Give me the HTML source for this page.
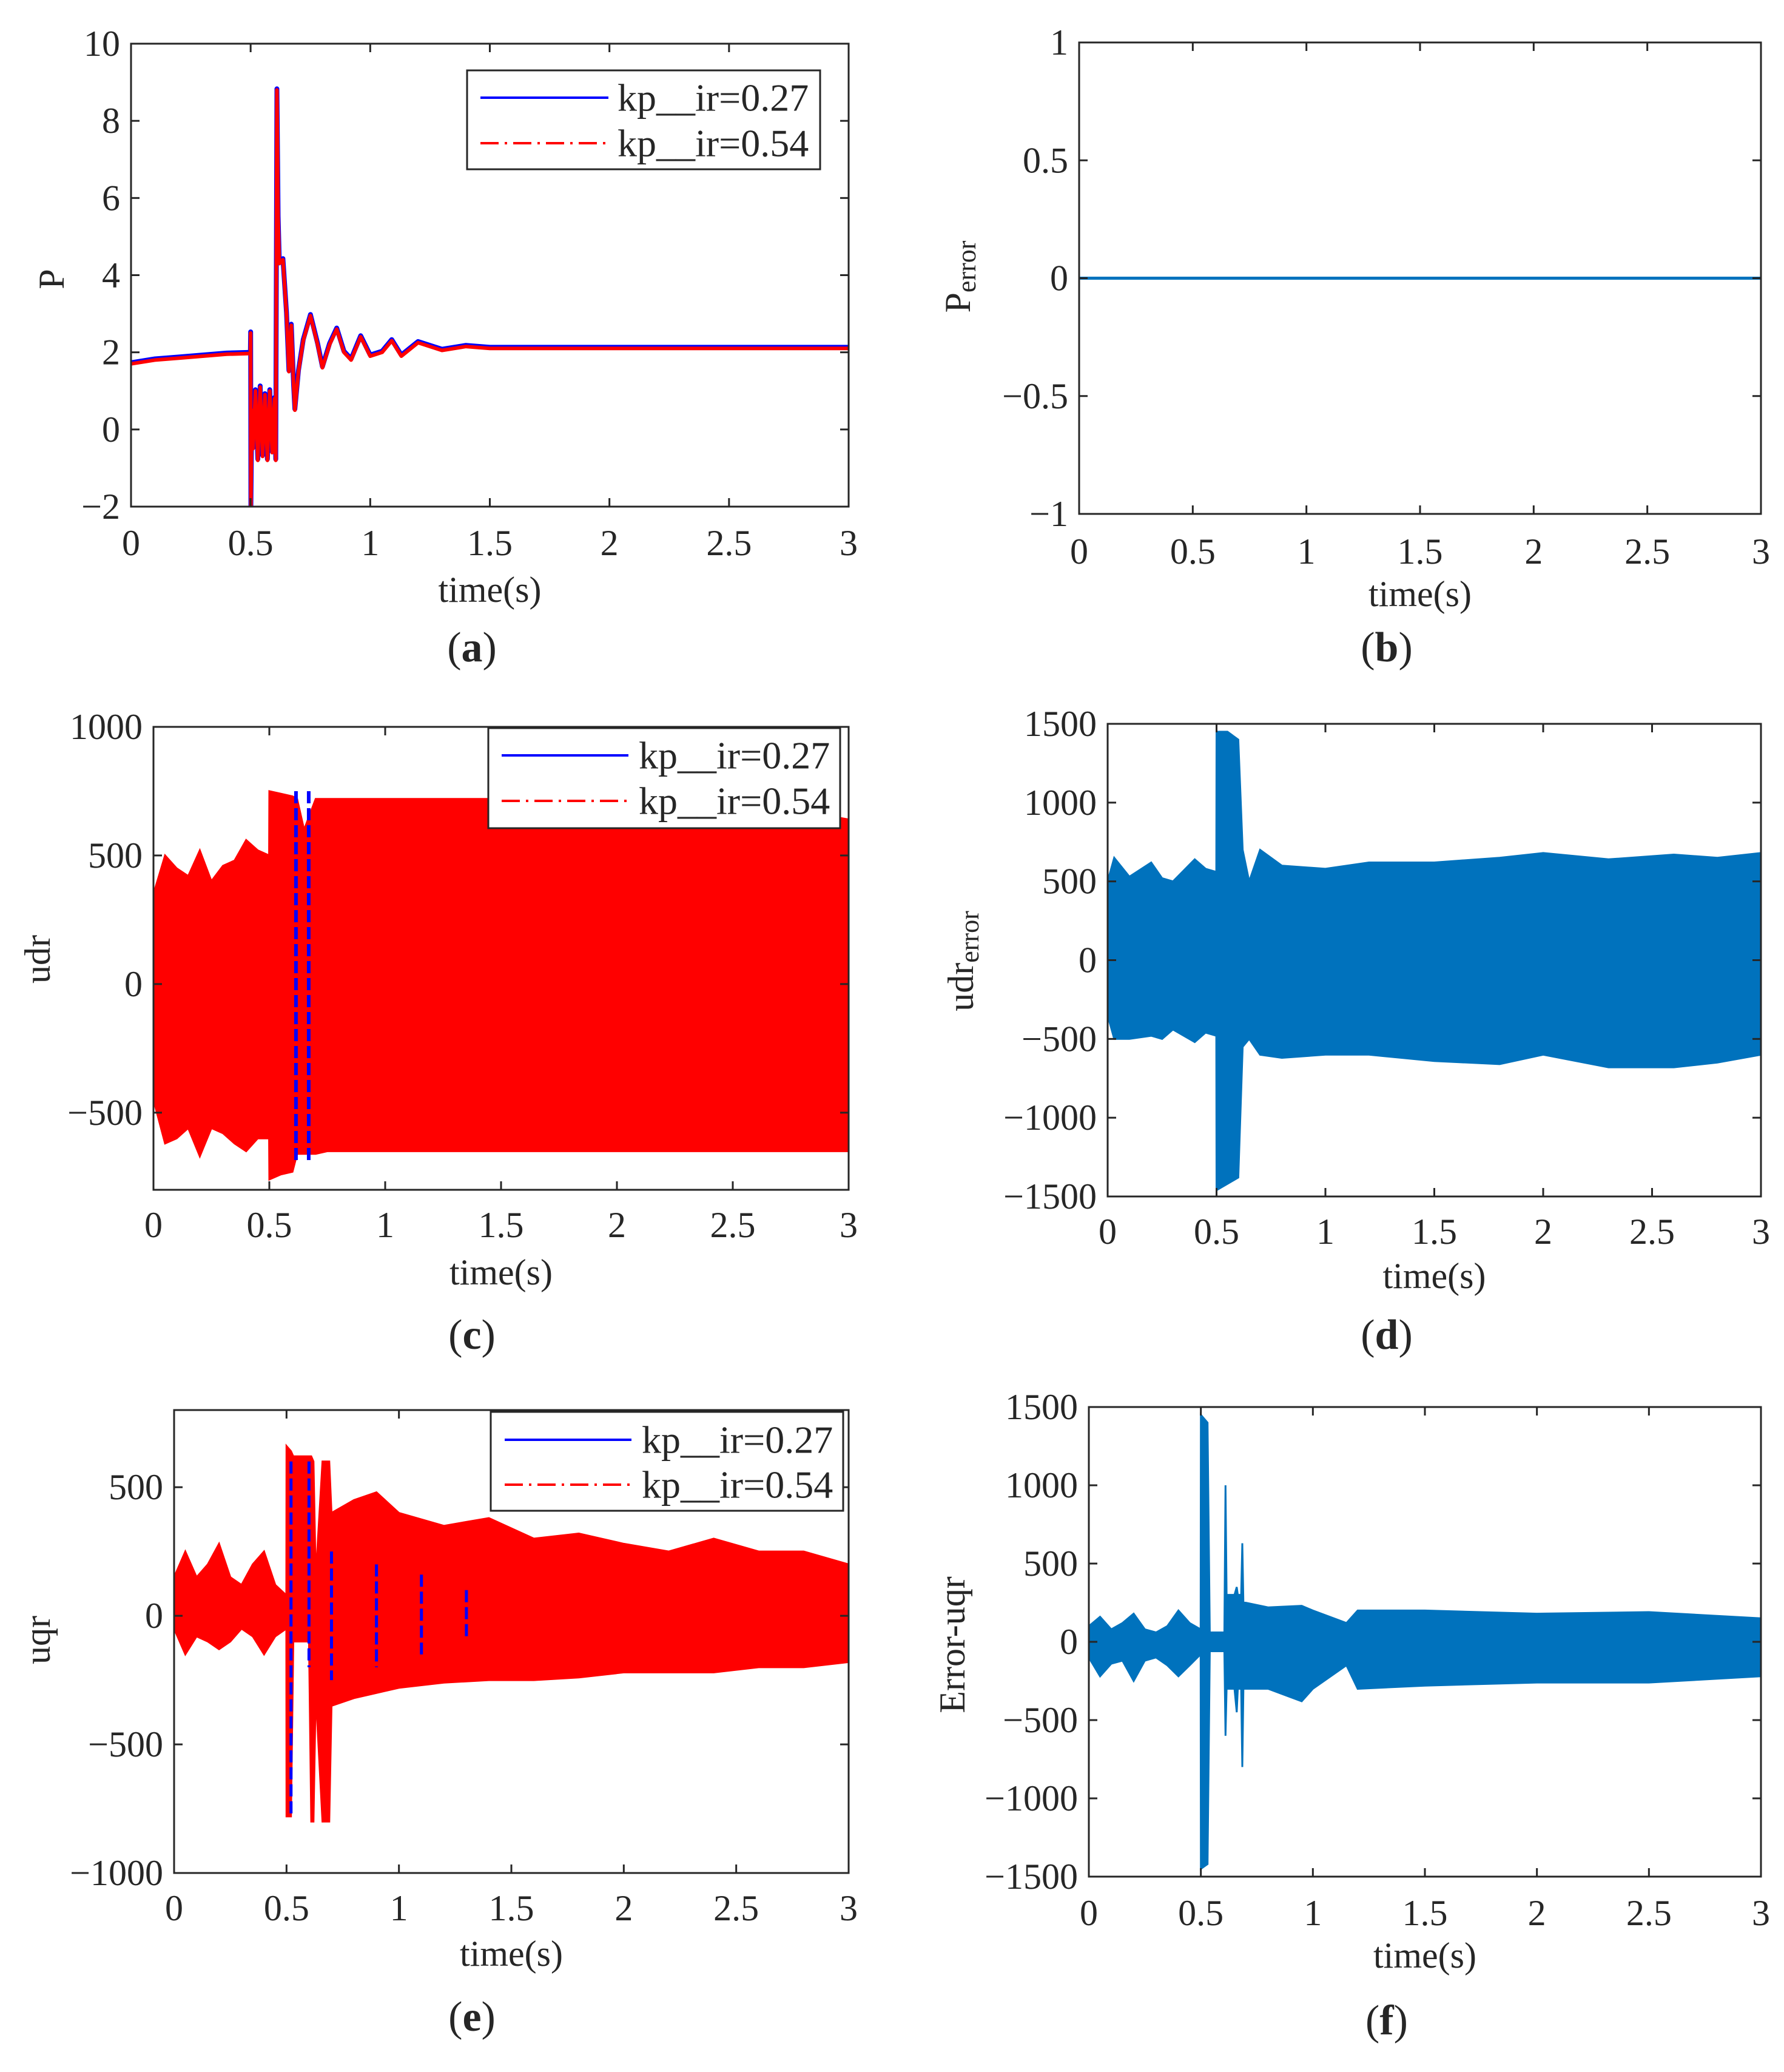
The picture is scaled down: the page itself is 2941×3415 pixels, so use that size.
<!DOCTYPE html>
<html><head><meta charset="utf-8"><style>
html,body{margin:0;padding:0;background:#fff;}
svg{display:block;}
text{font-family:"Liberation Serif",serif;fill:#262626;}
</style></head><body>
<svg id="fig" width="2941" height="3415" viewBox="0 0 2941 3415" xmlns="http://www.w3.org/2000/svg"></svg>
<script>
// ---------- data ----------
const xTicks = [0,0.5,1,1.5,2,2.5,3];
const xTickLabels = ["0","0.5","1","1.5","2","2.5","3"];
// (a) P
const pTimes = [0,0.1,0.2,0.3,0.4,0.499,0.5,0.501,0.505,0.51,0.52,0.53,0.54,0.55,0.56,0.57,0.58,0.59,0.6,0.605,0.61,0.615,0.62,0.635,0.65,0.66,0.67,0.68,0.685,0.7,0.72,0.75,0.78,0.8,0.83,0.86,0.89,0.92,0.96,1.0,1.05,1.09,1.13,1.2,1.3,1.4,1.5,2.0,2.5,3.0];
const pValues = [1.7,1.8,1.85,1.9,1.95,1.97,2.5,-2,0.5,-0.5,1.0,-0.8,1.1,-0.7,0.9,-0.8,1.0,-0.6,0.8,-0.8,8.8,5.5,4.3,4.4,3.0,1.5,2.7,1.1,0.5,1.5,2.3,2.95,2.2,1.6,2.2,2.6,2.0,1.8,2.4,1.9,2.0,2.3,1.9,2.25,2.05,2.15,2.1,2.1,2.1,2.1];
const pTicks = [-2,0,2,4,6,8,10];
// (b) P error
const peTimes = [0,3];
const peValues = [0,0];
const peTicks = [-1,-0.5,0,0.5,1];
const peTickLabels = ["\u22121","\u22120.5","0","0.5","1"];
// (c) udr envelope
const udrTimes = [0,0.05,0.1,0.15,0.2,0.25,0.3,0.35,0.4,0.45,0.499,0.5,0.55,0.6,0.62,0.65,0.7,0.75,0.8,1.0,1.5,2.0,2.5,3.0];
const udrUpper = [350,500,450,420,520,400,460,480,560,520,500,750,740,730,720,600,720,720,720,720,720,720,720,640];
const udrLower = [-450,-620,-600,-560,-670,-560,-580,-620,-650,-600,-600,-760,-740,-730,-660,-660,-660,-650,-650,-650,-650,-650,-650,-650];
const udrBlueTimes = [0.615,0.67];
const udrBlueUp = [750,750];
const udrBlueLo = [-700,-700];
const udrTicks = [-500,0,500,1000];
// (d) udr error envelope
const udreTimes = [0,0.03,0.1,0.2,0.25,0.3,0.4,0.45,0.499,0.5,0.55,0.6,0.62,0.65,0.7,0.8,1.0,1.2,1.5,1.8,2.0,2.3,2.6,2.8,3.0];
const udreUpper = [500,650,530,620,520,500,640,580,560,1450,1450,1400,700,500,700,600,580,620,620,650,680,640,670,650,680];
const udreLower = [-350,-500,-500,-480,-500,-440,-520,-460,-480,-1460,-1420,-1380,-550,-500,-600,-620,-600,-600,-640,-660,-600,-680,-680,-650,-600];
const udreTicks = [-1500,-1000,-500,0,500,1000,1500];
// (e) uqr envelope
const uqrTimes = [0,0.05,0.1,0.15,0.2,0.25,0.3,0.35,0.4,0.45,0.499,0.5,0.52,0.53,0.6,0.61,0.62,0.63,0.66,0.69,0.7,0.8,0.9,1.0,1.2,1.4,1.6,1.8,2.0,2.2,2.4,2.6,2.8,3.0];
const uqrUpper = [150,250,150,200,280,150,120,200,250,120,80,660,640,620,620,620,600,150,600,600,400,450,480,400,350,380,300,320,280,250,300,250,250,200];
const uqrLower = [-50,-150,-80,-100,-130,-100,-50,-80,-150,-80,-50,-780,-780,-100,-100,-800,-800,-300,-800,-800,-350,-320,-300,-280,-260,-250,-250,-240,-220,-220,-220,-200,-200,-180];
const uqrBlueTimes = [0.52,0.6,0.7,0.9,1.1,1.3];
const uqrBlueUp = [600,600,250,200,160,100];
const uqrBlueLo = [-780,-200,-250,-200,-150,-80];
const uqrTicks = [-1000,-500,0,500];
// (f) uqr error envelope
const equrTimes = [0,0.05,0.1,0.15,0.2,0.25,0.3,0.35,0.4,0.45,0.499,0.5,0.53,0.54,0.6,0.605,0.61,0.615,0.65,0.66,0.665,0.68,0.685,0.69,0.7,0.8,0.95,1.0,1.15,1.2,1.5,2.0,2.5,3.0];
const equrUpper = [100,160,80,120,180,80,60,100,200,120,80,1450,1400,60,60,60,1000,300,300,350,300,300,630,250,250,220,230,200,120,200,200,180,190,150];
const equrLower = [-100,-220,-140,-120,-250,-120,-100,-150,-220,-150,-80,-1450,-1420,-60,-60,-60,-600,-300,-300,-450,-300,-300,-800,-300,-300,-300,-380,-300,-150,-300,-280,-260,-260,-220];
const equrTicks = [-1500,-1000,-500,0,500,1000,1500];

// ---------- helpers ----------
const NS="http://www.w3.org/2000/svg";
const svg=document.getElementById('fig');
function el(tag,attrs,parent){const e=document.createElementNS(NS,tag);for(const k in attrs)e.setAttribute(k,attrs[k]);(parent||svg).appendChild(e);return e;}
function fmt(v){return v<0?"\u2212"+Math.abs(v):String(v);}

function makeAxes(cfg){
  const g=el('g',{});
  
  
  const sx=t=>cfg.x0+(t-0)/(3-0)*(cfg.x1-cfg.x0);
  const sy=v=>cfg.y1-(v-cfg.ymin)/(cfg.ymax-cfg.ymin)*(cfg.y1-cfg.y0);
  const clipId='clip-'+cfg.name;
  const cp=el('clipPath',{id:clipId},g);
  el('rect',{x:cfg.x0,y:cfg.y0,width:cfg.x1-cfg.x0,height:cfg.y1-cfg.y0},cp);
  const plot=el('g',{'clip-path':'url(#'+clipId+')'},g);
  
  
  // ticks & labels
  xTicks.forEach((t,i)=>{
    const x=sx(t);
    el('line',{x1:x,y1:cfg.y1,x2:x,y2:cfg.y1-14,stroke:'#262626','stroke-width':3},g);
    el('line',{x1:x,y1:cfg.y0,x2:x,y2:cfg.y0+14,stroke:'#262626','stroke-width':3},g);
    const tx=el('text',{x:x,y:cfg.xly,'font-size':60,'text-anchor':'middle','dominant-baseline':'central'},g);
    
    
    tx.textContent=xTickLabels[i];
  });
  cfg.yTicks.forEach((v,i)=>{
    const y=sy(v);
    el('line',{x1:cfg.x0,y1:y,x2:cfg.x0+14,y2:y,stroke:'#262626','stroke-width':3},g);
    el('line',{x1:cfg.x1,y1:y,x2:cfg.x1-14,y2:y,stroke:'#262626','stroke-width':3},g);
    const tx=el('text',{x:cfg.x0-18,y:y,'font-size':60,'text-anchor':'end','dominant-baseline':'central'},g);
    
    
    tx.textContent=cfg.yLabels?cfg.yLabels[i]:fmt(v);
  });
  // x label
  const xl=el('text',{x:(cfg.x0+cfg.x1)/2,y:cfg.xty,'font-size':60,'text-anchor':'middle','dominant-baseline':'central'},g);
  
  
  xl.textContent='time(s)';
  // y label
  const yl=el('text',{x:0,y:0,'font-size':60,'text-anchor':'middle','dominant-baseline':'central',transform:`translate(${cfg.ylx},${cfg.yly}) rotate(-90)`},g);
  
  
  if(cfg.ysub){
    const t1=el('tspan',{},yl);t1.textContent=cfg.ytitle;
    const t2=el('tspan',{'font-size':44,dy:14},yl);t2.textContent=cfg.ysub;
  } else yl.textContent=cfg.ytitle;
  // panel label
  const pl=el('text',{x:cfg.plx,y:cfg.ply,'font-size':70,'text-anchor':'middle','dominant-baseline':'central'},g);
  
  
  const a=el('tspan',{},pl);a.textContent='(';
  const b=el('tspan',{'font-weight':'bold'},pl);b.textContent=cfg.panel;
  const c=el('tspan',{},pl);c.textContent=')';
  return {g,plot,sx,sy,frame:()=>{
    const f=el('rect',{x:cfg.x0,y:cfg.y0,width:cfg.x1-cfg.x0,height:cfg.y1-cfg.y0,fill:'none',stroke:'#262626','stroke-width':3},g);
    
    
  }};
}
function drawLine(ax,times,vals,color,w,name){
  const d=times.map((t,i)=>(i?'L':'M')+ax.sx(t).toFixed(1)+','+ax.sy(vals[i]).toFixed(1)).join('');
  const p=el('path',{d:d,fill:'none',stroke:color,'stroke-width':w,'stroke-linejoin':'round'},ax.plot);
  
  
}
function drawEnv(ax,times,up,lo,color,name){
  let d='';
  times.forEach((t,i)=>{d+=(i?'L':'M')+ax.sx(t).toFixed(1)+','+ax.sy(up[i]).toFixed(1);});
  for(let i=times.length-1;i>=0;i--)d+='L'+ax.sx(times[i]).toFixed(1)+','+ax.sy(lo[i]).toFixed(1);
  d+='Z';
  const p=el('path',{d:d,fill:color,stroke:color,'stroke-width':3},ax.plot);
  
  
}
function drawSpikes(ax,times,up,lo,color,w,name){
  times.forEach((t,i)=>{
    const l=el('line',{x1:ax.sx(t),x2:ax.sx(t),y1:ax.sy(up[i]),y2:ax.sy(lo[i]),stroke:color,'stroke-width':w,'stroke-dasharray':'20,8'},ax.plot);
    
    
  });
}
function legend(x0,y0,x1,y1,ly1,ly2,lx0,lx1,tx){
  const g=el('g',{});
  
  
  el('rect',{x:x0,y:y0,width:x1-x0,height:y1-y0,fill:'#fff',stroke:'#262626','stroke-width':3},g);
  const l1=el('line',{x1:lx0,x2:lx1,y1:ly1,y2:ly1,stroke:'#0000ff','stroke-width':4},g);
  
  
  const l2=el('line',{x1:lx0,x2:lx1,y1:ly2,y2:ly2,stroke:'#ff0000','stroke-width':4,'stroke-dasharray':'30,10,4,10'},g);
  
  
  const t1=el('text',{x:tx,y:ly1,'font-size':64,'dominant-baseline':'central',fill:'#000'},g);
  
  
  t1.textContent='kp__ir=0.27';
  const t2=el('text',{x:tx,y:ly2,'font-size':64,'dominant-baseline':'central',fill:'#000'},g);
  
  
  t2.textContent='kp__ir=0.54';
}

// (a)
const A=makeAxes({name:'panel-a',x0:216,x1:1399,y0:72,y1:835,ymin:-2,ymax:10,yTicks:pTicks,xly:895,xty:972,ylx:85,yly:460,ytitle:'P',plx:778,ply:1067,panel:'a'});
drawLine(A,pTimes,pValues.map(v=>v+0.03),'#0000ff',8,'series-kp-0.27');
drawLine(A,pTimes,pValues,'#ff0000',6,'series-kp-0.54');
A.frame();
legend(770,116,1352,279,161,236,792,1003,1018);
// (b)
const B=makeAxes({name:'panel-b',x0:1779,x1:2903,y0:70,y1:847,ymin:-1,ymax:1,yTicks:peTicks,yLabels:peTickLabels,xly:909,xty:979,ylx:1579,yly:456,ytitle:'P',ysub:'error',plx:2286,ply:1067,panel:'b'});
drawLine(B,peTimes,peValues,'#0072BD',5,'p-error-line');
B.frame();
// (c)
const C=makeAxes({name:'panel-c',x0:253,x1:1399,y0:1198,y1:1961,ymin:-800,ymax:1000,yTicks:udrTicks,xly:2019,xty:2097,ylx:62,yly:1581,ytitle:'udr',plx:778,ply:2200,panel:'c'});
drawEnv(C,udrTimes,udrUpper,udrLower,'#ff0000','udr-envelope-kp-0.54');
drawSpikes(C,udrBlueTimes,udrBlueUp,udrBlueLo,'#0000ff',6,'udr-kp-0.27');
C.frame();
legend(805,1200,1385,1365,1245,1320,827,1036,1053);
// (d)
const D=makeAxes({name:'panel-d',x0:1826,x1:2903,y0:1193,y1:1972,ymin:-1500,ymax:1500,yTicks:udreTicks,xly:2030,xty:2103,ylx:1584,yly:1584,ytitle:'udr',ysub:'error',plx:2286,ply:2200,panel:'d'});
drawEnv(D,udreTimes,udreUpper,udreLower,'#0072BD','udr-error-envelope');
D.frame();
// (e)
const E=makeAxes({name:'panel-e',x0:287,x1:1399,y0:2324,y1:3087,ymin:-1000,ymax:800,yTicks:uqrTicks,xly:3145,xty:3220,ylx:62,yly:2703,ytitle:'uqr',plx:778,ply:3324,panel:'e'});
drawEnv(E,uqrTimes,uqrUpper,uqrLower,'#ff0000','uqr-envelope-kp-0.54');
drawSpikes(E,uqrBlueTimes,uqrBlueUp,uqrBlueLo,'#0000ff',5,'uqr-kp-0.27');
E.frame();
legend(809,2327,1390,2490,2373,2447,832,1041,1058);
// (f)
const F=makeAxes({name:'panel-f',x0:1795,x1:2903,y0:2319,y1:3093,ymin:-1500,ymax:1500,yTicks:equrTicks,xly:3153,xty:3223,ylx:1570,yly:2711,ytitle:'Error-uqr',plx:2286,ply:3330,panel:'f'});
drawEnv(F,equrTimes,equrUpper,equrLower,'#0072BD','error-uqr-envelope');
F.frame();
</script>
</body></html>
